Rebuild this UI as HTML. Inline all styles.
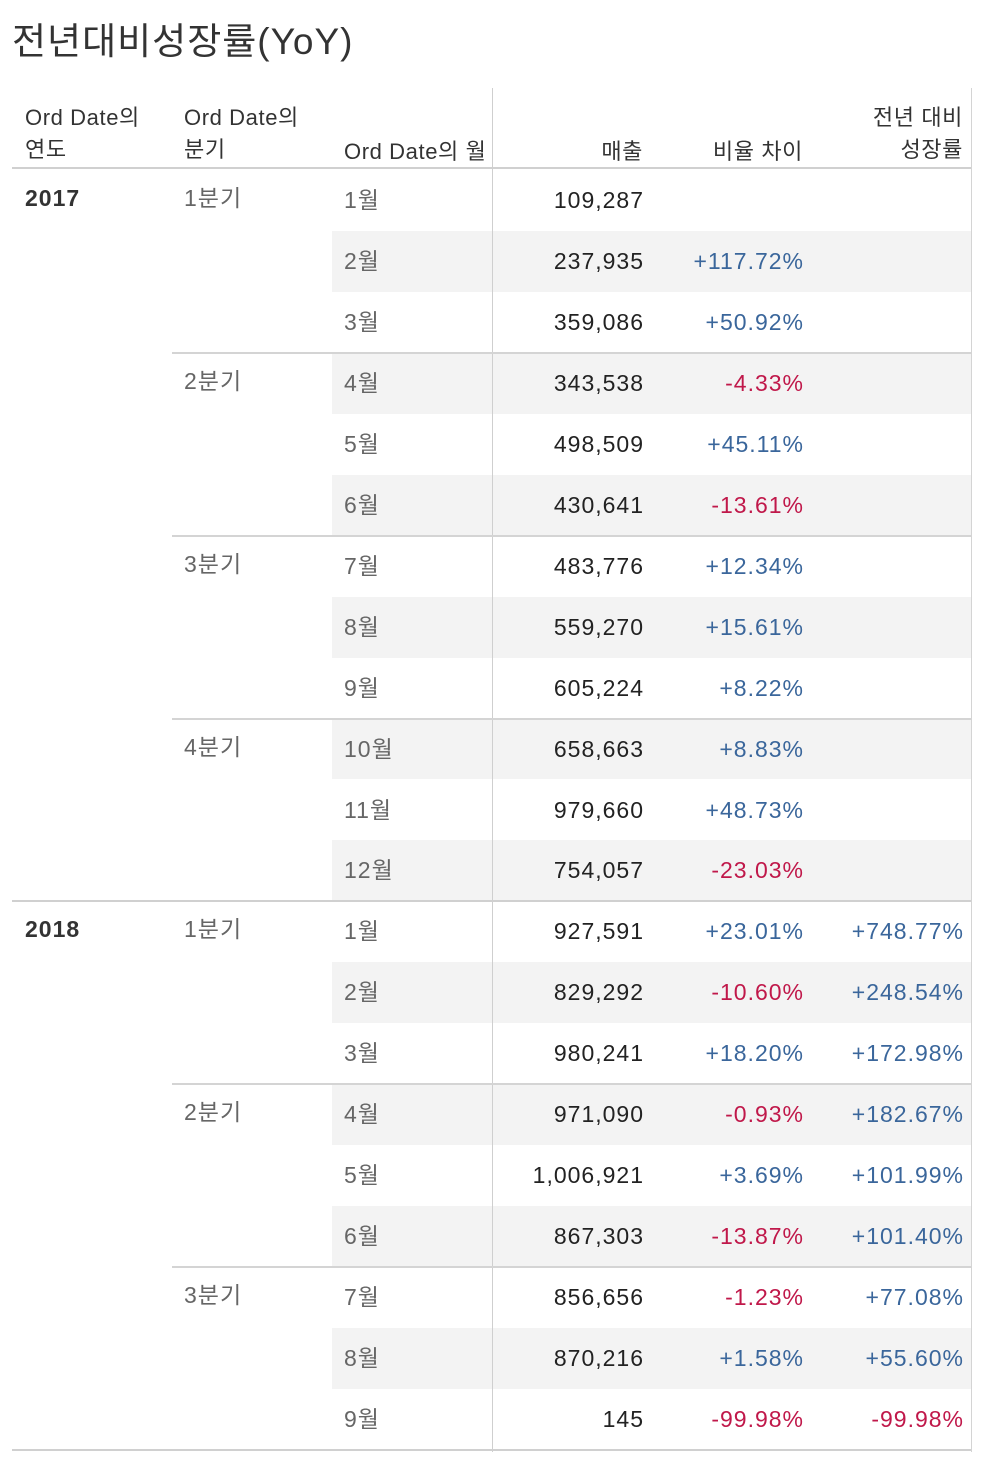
<!DOCTYPE html>
<html><head><meta charset="utf-8">
<style>
body{margin:0;background:#fff;width:984px;height:1460px;position:relative;overflow:hidden;font-family:"Liberation Sans","Noto Sans CJK KR",sans-serif;}
.a{position:absolute;white-space:nowrap;}
.t{font-size:23px;line-height:26px;letter-spacing:1px;}
.r{text-align:right;}
.r.t{margin-right:-1px;}
.hd{font-size:22px;line-height:32px;color:#333;letter-spacing:0.6px;}
</style></head>
<body>
<div class="a" style="left:12px;top:19px;font-size:37px;line-height:46px;color:#333;letter-spacing:1px;">전년대비성장률(YoY)</div>
<div class="a hd" style="left:25px;top:102px;">Ord Date의<br>연도</div>
<div class="a hd" style="left:184px;top:102px;">Ord Date의<br>분기</div>
<div class="a hd" style="left:344px;top:136px;">Ord Date의 월</div>
<div class="a hd r" style="right:341px;top:136px;">매출</div>
<div class="a hd r" style="right:181px;top:136px;">비율 차이</div>
<div class="a hd r" style="right:21px;top:102px;">전년 대비<br>성장률</div>
<div id="tbl"></div>
<script>
const years=["2017","2018"];
const months=[1,2,3,4,5,6,7,8,9,10,11,12,1,2,3,4,5,6,7,8,9];
const sales=["109,287","237,935","359,086","343,538","498,509","430,641","483,776","559,270","605,224","658,663","979,660","754,057","927,591","829,292","980,241","971,090","1,006,921","867,303","856,656","870,216","145"];
const diffs=[null,117.72,50.92,-4.33,45.11,-13.61,12.34,15.61,8.22,8.83,48.73,-23.03,23.01,-10.60,18.20,-0.93,3.69,-13.87,-1.23,1.58,-99.98];
const yoy=[null,null,null,null,null,null,null,null,null,null,null,null,748.77,248.54,172.98,182.67,101.99,101.40,77.08,55.60,-99.98];
const T=document.getElementById('tbl');
const top0=170, rh=60.95;
function mk(name,css,txt,cls){const d=document.createElement('div');d.className='a '+(cls||'');d.style.cssText=css;if(txt!=null)d.textContent=txt;


T.appendChild(d);return d;}
function fmt(v){return (v>=0?'+':'')+v.toFixed(2)+'%';}
function col(v){return v>=0?'#3a669b':'#c0184a';}
months.forEach((m,i)=>{const y=top0+i*rh;
if(m%2===0) mk('row-shade','left:332px;width:639px;top:'+(y)+'px;height:'+rh+'px;background:#f3f3f3;');});
mk('header-line','left:12px;width:959px;top:167px;height:2px;background:#d0d0d0;');
mk('v-divider','left:492px;width:1px;top:88px;height:1364px;background:#cfcfcf;');
mk('right-border','left:971px;width:1px;top:88px;height:1364px;background:#d4d4d4;');
months.forEach((m,i)=>{const y=top0+i*rh;
mk('month-label','left:344px;top:'+(y+17)+'px;color:#666;','' + m + '월','t');
mk('sales-value','right:341px;top:'+(y+17)+'px;color:#222;',sales[i],'t r');
if(diffs[i]!==null) mk('diff-value','right:181px;top:'+(y+17)+'px;color:'+col(diffs[i])+';',fmt(diffs[i]),'t r');
if(yoy[i]!==null) mk('yoy-value','right:21px;top:'+(y+17)+'px;color:'+col(yoy[i])+';',fmt(yoy[i]),'t r');
if((m-1)%3===0){mk('quarter-label','left:184px;top:'+(y+15)+'px;color:#666;',((m-1)/3+1)+'분기','t');}
if(m===1){mk('year-label','left:25px;top:'+(y+15)+'px;color:#333;font-weight:bold;',years[i<12?0:1],'t');}
if(m%3===0){const yb=y+rh;
if(m===12||i===months.length-1) mk('year-line','left:12px;width:959px;top:'+(yb-1)+'px;height:2px;background:#d0d0d0;');
else mk('quarter-line','left:172px;width:799px;top:'+(yb-1)+'px;height:2px;background:#d4d4d4;');}
});
</script>
</body></html>
